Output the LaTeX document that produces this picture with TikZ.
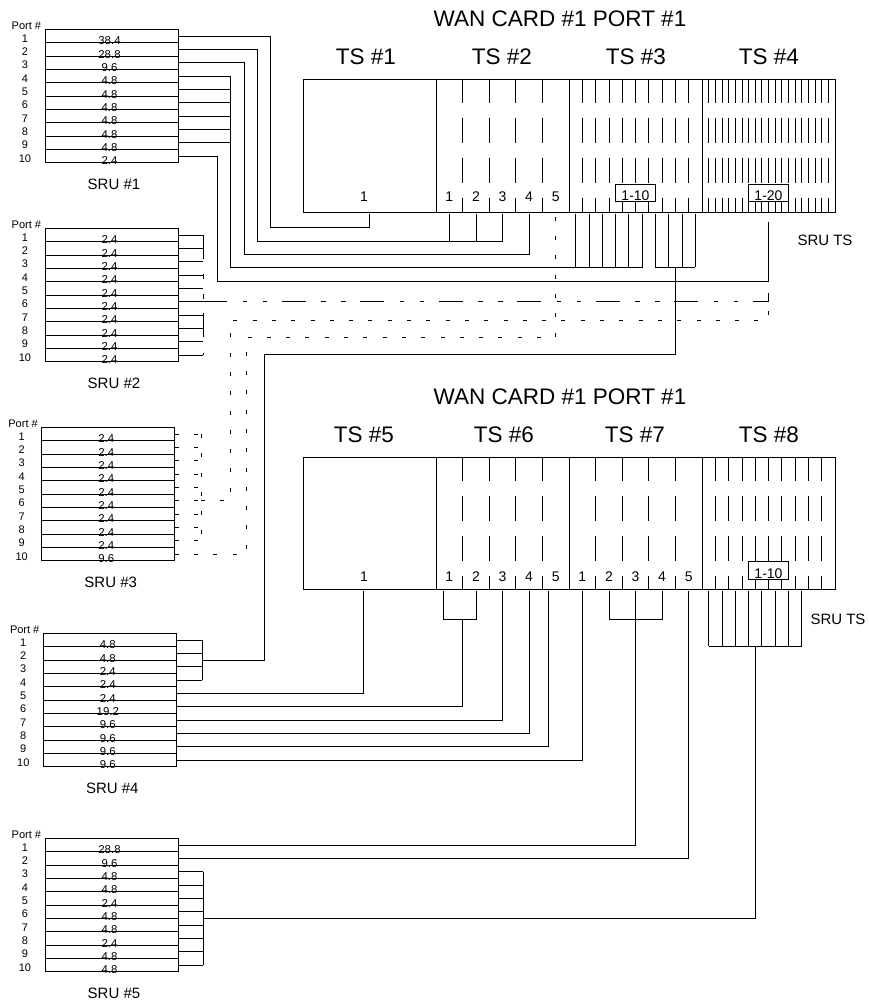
\documentclass[tikz,border=0pt]{standalone}
\usepackage{fontspec}
\setmainfont{Liberation Sans}

% one SRU block: #1 name, #2 left x, #3 top y, #4 title, #5 port rates
\newcommand{\drawsru}[5]{%
  \node[portlbl,anchor=west] (#1hd) at (#2-33.5,#3-3.5) {Port \#};
  \draw[box] (#2,#3) rectangle (#2+133,#3+133.3);
  \foreach \val [count=\i] in {#5} {
    \draw[box] (#2,#3+13.33*\i) -- (#2+133,#3+13.33*\i);
    \node[portlbl] (#1n\i) at (#2-20,#3+13.33*\i-4.2) {\i};
    \node[rate] (#1r\i) at (#2+64.5,#3+13.33*\i+2.2) {\val};
    \coordinate (#1-\i) at (#2+133,#3+13.33*\i-6.67);
  }
  \node[srulbl] (#1) at (#2+69,#3+155) {#4};
}

% slots of one TS: #1 name, #2 left x, #3 top y, #4 bottom y, #5 slot count
\newcommand{\tsslots}[5]{%
  \foreach \k in {1,...,#5} {
    \coordinate (#1-\k) at ({#2+(\k-0.5)*133/#5},#4+2);
    \ifnum\k>1
      \draw[slotdiv] ({#2+(\k-1)*133/#5},#3) -- ({#2+(\k-1)*133/#5},#4);
    \fi
  }
}

\begin{document}
\begin{tikzpicture}[x=1pt,y=-1pt,
  box/.style={line width=0.8pt},
  wire/.style={line width=0.8pt},
  dashdotwire/.style={wire,dash pattern=on 24pt off 15.5pt on 4.5pt off 15.5pt on 4.5pt off 14.5pt},
  dotwire/.style={wire,dash pattern=on 4pt off 15.3pt},
  slotdiv/.style={line width=0.8pt,dash pattern=on 23.7pt off 15pt on 25pt off 15pt on 25pt off 15pt on 20pt off 5pt},
  portlbl/.style={font=\fontsize{11}{13}\selectfont,inner sep=0pt},
  rate/.style={font=\fontsize{11.4}{13}\selectfont,inner sep=0pt,anchor=base},
  srulbl/.style={font=\fontsize{15}{18}\selectfont,inner sep=0pt},
  tslbl/.style={font=\fontsize{22.5}{26}\selectfont,inner sep=0pt},
  slotnum/.style={font=\fontsize{14}{16}\selectfont,inner sep=0pt,anchor=base},
  rangebox/.style={draw,line width=0.8pt,fill=white,font=\fontsize{14}{16}\selectfont,
    minimum width=40.5pt,minimum height=17.4pt,text height=16.4pt,text depth=0pt,
    inner xsep=0pt,inner ysep=0.5pt,anchor=south}]
  \useasboundingbox (0,0) rectangle (869,1002);

  % SRU blocks
  \drawsru{s1}{45}{29.3}{SRU \#1}{38.4,28.8,9.6,4.8,4.8,4.8,4.8,4.8,4.8,2.4}
  \drawsru{s2}{45}{228.3}{SRU \#2}{2.4,2.4,2.4,2.4,2.4,2.4,2.4,2.4,2.4,2.4}
  \drawsru{s3}{41.7}{427.3}{SRU \#3}{2.4,2.4,2.4,2.4,2.4,2.4,2.4,2.4,2.4,9.6}
  \drawsru{s4}{43.3}{633.3}{SRU \#4}{4.8,4.8,2.4,2.4,2.4,19.2,9.6,9.6,9.6,9.6}
  \drawsru{s5}{45}{838.3}{SRU \#5}{28.8,9.6,4.8,4.8,2.4,4.8,4.8,2.4,4.8,4.8}

  % upper WAN card
  \node[tslbl] (wan1) at (560,19) {WAN CARD \#1 PORT \#1};
  \node[tslbl] (lbl1) at (366,57) {TS \#1};
  \node[tslbl] (lbl2) at (502,57) {TS \#2};
  \node[tslbl] (lbl3) at (636,57) {TS \#3};
  \node[tslbl] (lbl4) at (769,57) {TS \#4};
  \draw[box] (303,79) rectangle (835,212.3);
  \foreach \x in {436,569,702} \draw[box] (\x,79) -- (\x,212.3);
  \tsslots{ts1}{303}{79}{212.3}{1}
  \tsslots{ts2}{436}{79}{212.3}{5}
  \tsslots{ts3}{569}{79}{212.3}{10}
  \tsslots{ts4}{702}{79}{212.3}{20}
  \coordinate (nb1) at (0,201.7);
  \node[slotnum] (t1n1) at (364,201.7) {1};
  \foreach \k in {1,...,5} \node[slotnum] (t2n\k) at (ts2-\k |- nb1) {\k};
  \node[rangebox] (rng3) at (635.5,201.7) {1-10};
  \node[rangebox] (rng4) at (768.5,201.7) {1-20};
  \node[srulbl] (srua) at (825,240) {SRU TS};

  % lower WAN card
  \node[tslbl] (wan2) at (560,397) {WAN CARD \#1 PORT \#1};
  \node[tslbl] (lbl5) at (364,434.3) {TS \#5};
  \node[tslbl] (lbl6) at (504,434.3) {TS \#6};
  \node[tslbl] (lbl7) at (635,434.3) {TS \#7};
  \node[tslbl] (lbl8) at (769,434.3) {TS \#8};
  \draw[box] (303,457.3) rectangle (835,589.3);
  \foreach \x in {436,569,702} \draw[box] (\x,457.3) -- (\x,589.3);
  \tsslots{ts6}{436}{457.3}{589.3}{5}
  \tsslots{ts7}{569}{457.3}{589.3}{5}
  \tsslots{ts8}{702}{457.3}{589.3}{10}
  \coordinate (nb2) at (0,581);
  \node[slotnum] (t5n1) at (364,581) {1};
  \foreach \k in {1,...,5} {
    \node[slotnum] (t6n\k) at (ts6-\k |- nb2) {\k};
    \node[slotnum] (t7n\k) at (ts7-\k |- nb2) {\k};
  }
  \node[rangebox] (rng8) at (768.5,579.3) {1-10};
  \node[srulbl] (srub) at (838,619.3) {SRU TS};

  % routing corners and buses
  \coordinate (c1) at (270,227.7);
  \coordinate (c2) at (257,241.7);
  \coordinate (c3) at (244.3,254);
  \coordinate (c4) at (230.3,267.3);
  \coordinate (c5) at (217.7,281);
  \coordinate (c6) at (675.4,267.3);
  \coordinate (c7) at (264.3,354.3);
  \coordinate (c8) at (230.7,320.7);
  \coordinate (c9) at (246.7,337.3);
  \coordinate (ts4bus) at (768.3,221.7);
  \coordinate (b2) at (203,0);
  \coordinate (b3) at (201,0);
  \coordinate (s4bus) at (202.3,660);
  \coordinate (s5bus) at (203.3,918.3);
  \coordinate (ts5-1) at (363.3,591.3);
  \coordinate (ts6a) at (443,591.3);
  \coordinate (ts6e) at (548.7,591.3);
  \coordinate (ts6m) at (462.7,619.3);
  \coordinate (ts8m) at (755.2,646);

  % SRU #1 to TS #1 - TS #4
  \draw[wire] (s1-1) -| (c1) -| (ts1-1);
  \draw[wire] (s1-2) -| (c2) -| (ts2-3);
  \foreach \k in {1,2} \draw[wire] (ts2-\k) -- (ts2-\k |- c2);
  \draw[wire] (s1-3) -| (c3) -| (ts2-4);
  \draw[wire] (s1-4) -| (c4) -| (ts3-6);
  \foreach \i in {5,...,9} \draw[wire] (s1-\i) -- (s1-\i -| c4);
  \foreach \k in {1,...,5} \draw[wire] (ts3-\k) -- (ts3-\k |- c4);
  \draw[wire] (s1-10) -| (c5) -| (ts4bus);

  % TS #3 slots 7-10 to SRU #4 ports 1-4
  \foreach \k in {7,...,10} \draw[wire] (ts3-\k) -- (ts3-\k |- c4);
  \draw[wire] (ts3-7 |- c4) -- (ts3-10 |- c4);
  \draw[wire] (c6) |- (c7) |- (s4bus);
  \foreach \i in {1,...,4} \draw[wire] (s4-\i) -- (s4-\i -| s4bus);
  \draw[wire] (s4-1 -| s4bus) -- (s4-4 -| s4bus);

  % SRU #2
  \foreach \i in {1,...,10} \draw[wire] (s2-\i) -- (s2-\i -| b2);
  \draw[dashdotwire] (s2-1 -| b2) -- (s2-10 -| b2);
  \draw[dashdotwire] (s2-6 -| b2) -| (ts4bus |- c5);

  % SRU #3
  \foreach \i in {1,...,9} \draw[dotwire] (s3-\i) -- (s3-\i -| b3);
  \draw[dotwire] (s3-1 -| b3) -- (s3-9 -| b3);
  \draw[dotwire] (s3-6 -| b3) -| (c8) -| (ts4bus |- s2-6);
  \draw[dotwire] (s3-10) -| (c9) -| (ts2-5);

  % SRU #4 ports 5-10
  \draw[wire] (s4-5) -| (ts5-1);
  \draw[wire] (s4-6) -| (ts6m);
  \draw[wire] (ts6a) |- (ts6m) -| (ts6-2);
  \draw[wire] (s4-7) -| (ts6-3);
  \draw[wire] (s4-8) -| (ts6-4);
  \draw[wire] (s4-9) -| (ts6e);
  \draw[wire] (s4-10) -| (ts7-1);

  % SRU #5
  \draw[wire] (s5-1) -| (ts7-3);
  \draw[wire] (ts7-2) |- (ts7-3 |- ts6m) -| (ts7-4);
  \draw[wire] (s5-2) -| (ts7-5);
  \foreach \i in {3,...,10} \draw[wire] (s5-\i) -- (s5-\i -| s5bus);
  \draw[wire] (s5-3 -| s5bus) -- (s5-10 -| s5bus);
  \draw[wire] (s5bus) -| (ts8m);
  \foreach \k in {1,...,8} \draw[wire] (ts8-\k) -- (ts8-\k |- ts8m);
  \draw[wire] (ts8-1 |- ts8m) -- (ts8-8 |- ts8m);
\end{tikzpicture}
\end{document}
